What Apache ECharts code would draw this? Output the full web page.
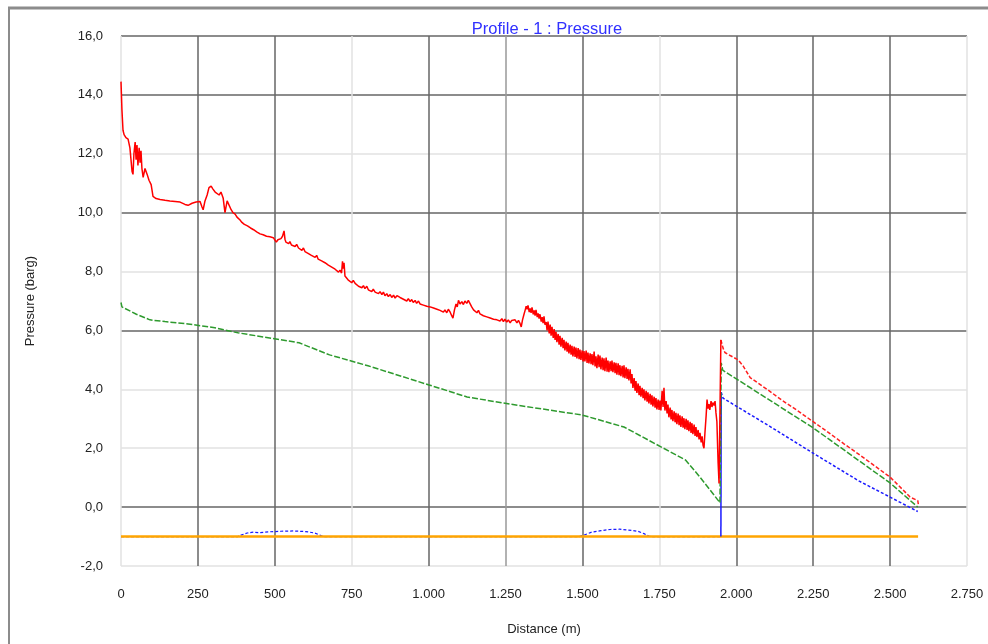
<!DOCTYPE html>
<html>
<head>
<meta charset="utf-8">
<script src="https://cdn.jsdelivr.net/npm/echarts@6/dist/echarts.min.js"></script>
<style>
html,body{margin:0;padding:0;background:#fff;}
#chart{width:988px;height:644px;}
</style>
</head>
<body>
<div id="chart"></div>
<script>
const titleText = 'Profile - 1 : Pressure';
const xAxisName = 'Distance (m)';
const yAxisName = 'Pressure (barg)';

// Red: noisy section up to the jump at ~1950 m
const redMain = [
[0,14.45],[3,13.5],[6.5,12.8],[10,12.65],[16,12.55],[23,12.5],[29,12.2],[36,11.4],[39,11.3],[42,12.0],
[46,12.4],[49,11.8],[52,12.3],[55,11.6],[59,12.2],[62,11.7],[65,12.1],[68,11.5],[72,11.2],[78,11.5],
[85,11.3],[91,11.1],[98,10.95],[104,10.55],[114,10.48],[127,10.45],[143,10.42],[159,10.4],[176,10.38],
[192,10.36],[208,10.28],[218,10.25],[231,10.32],[244,10.36],[257,10.38],[263,10.2],[267,10.1],[273,10.4],
[280,10.6],[286,10.85],[293,10.9],[299,10.8],[306,10.7],[312,10.75],[319,10.6],[325,10.7],[332,10.5],
[338,10.0],[345,10.4],[351,10.45],[358,10.1],[364,10.0],[371,9.95],[377,9.85],
[387,9.75],[392,9.68],[397,9.72],[401,9.6],[406,9.66],[411,9.55],[416,9.6],[421,9.48],[426,9.52],[431,9.42],
[436,9.46],[441,9.35],[446,9.4],[452,9.28],[457,9.34],[462,9.25],[468,9.3],[473,9.2],[478,9.26],[484,9.18],
[490,9.24],[495,9.15],[501,9.2],[505,9.0],[510,9.08],[515,9.02],[520,9.12],[525,9.2],[530,9.38],[533,9.1],
[536,9.0],[541,9.05],[545,8.95],[549,9.02],[554,8.9],[560,8.95],[566,8.85],[571,8.92],[577,8.8],[582,8.86],
[588,8.72],[593,8.8],[598,8.68],[603,8.74],[608,8.62],[614,8.68],[619,8.55],[625,8.6],[631,8.48],[636,8.55],
[641,8.42],[647,8.48],[652,8.36],[658,8.42],[663,8.3],[668,8.36],[674,8.22],[679,8.28],[685,8.15],[690,8.2],
[696,8.08],[701,8.14],[707,7.98],[712,8.05],[717,7.95],[720,8.35],[722,8.1],[725,8.3],[728,7.85],[733,7.8],
[738,7.72],[744,7.78],[750,7.62],[755,7.7],[761,7.6],[766,7.66],[772,7.5],[777,7.56],[783,7.45],[788,7.52],
[793,7.42],[799,7.5],[804,7.38],[809,7.44],[815,7.32],[820,7.4],[826,7.3],[831,7.36],[837,7.25],[842,7.32],
[848,7.22],[853,7.3],[858,7.18],[864,7.25],[869,7.15],[875,7.22],[880,7.12],[886,7.2],[891,7.1],[897,7.18],
[902,7.24],[907,7.12],[913,7.18],[918,7.06],[923,7.12],[929,7.0],[934,7.08],[940,6.98],[945,7.05],[950,6.95],
[956,7.02],[961,6.92],[967,7.0],[972,6.9],[978,6.96],[983,6.86],[988,6.92],[994,6.82],[999,6.88],[1005,6.8],
[1010,6.86],[1016,6.76],[1021,6.82],[1027,6.72],[1032,6.78],[1037,6.68],[1043,6.74],[1048,6.62],[1053,6.7],
[1059,6.6],[1064,6.72],[1070,6.62],[1075,6.5],[1079,6.42],[1084,6.7],[1089,6.9],[1093,6.8],[1097,7.02],
[1102,6.9],[1108,6.98],[1113,6.88],[1118,7.0],[1124,6.92],[1129,7.02],[1135,6.9],[1140,6.8],[1146,6.7],
[1151,6.76],[1157,6.6],[1162,6.68],[1167,6.56],[1173,6.62],[1178,6.5],[1184,6.56],[1189,6.46],[1195,6.52],
[1200,6.42],[1205,6.48],[1211,6.38],[1216,6.44],[1222,6.36],[1227,6.42],[1232,6.32],[1238,6.4],[1243,6.3],
[1248,6.38],[1254,6.28],[1259,6.36],[1265,6.26],[1270,6.34],[1276,6.28],[1281,6.36],[1287,6.26],[1292,6.34],
[1297,6.24],[1301,6.12],[1305,6.35],[1310,6.55],[1314,6.7],[1317,6.82],[1320,6.72],[1323,6.85],[1327,6.62],
[1330,6.75],[1333,6.6],[1336,6.78],[1340,6.55],[1343,6.68],[1346,6.5],[1349,6.7],[1353,6.45],[1356,6.58],
[1359,6.4],[1362,6.55],[1366,6.3],[1369,6.45],[1372,6.25],[1375,6.48],[1378,6.2],[1382,6.28],
[1385,6.0],[1388,6.3],[1392,5.9],[1395,6.2],[1398,5.82],[1401,6.12],[1405,5.75],[1408,6.05],[1411,5.68],
[1414,5.95],[1417,5.6],[1421,5.88],[1424,5.52],[1427,5.82],[1430,5.45],[1434,5.75],[1437,5.4],[1440,5.68],
[1443,5.32],[1447,5.62],[1450,5.28],[1453,5.58],[1456,5.22],[1460,5.52],[1463,5.18],[1466,5.48],[1469,5.12],
[1473,5.45],[1476,5.1],[1479,5.42],[1482,5.05],[1486,5.4],[1489,5.02],[1492,5.35],[1495,5.0],[1499,5.32],
[1502,4.95],[1505,5.3],[1508,4.95],[1512,5.32],[1515,4.9],[1518,5.25],[1521,4.88],[1525,5.22],[1528,4.85],
[1531,5.2],[1534,4.82],[1538,5.28],[1541,4.78],[1544,5.12],[1547,4.72],[1551,5.18],[1554,4.75],[1557,5.15],
[1560,4.68],[1564,5.08],[1567,4.65],[1570,5.05],[1573,4.62],[1577,5.08],[1580,4.6],[1583,4.98],[1586,4.58],
[1590,4.95],[1593,4.62],[1596,4.98],[1599,4.58],[1603,4.92],[1606,4.55],[1609,4.9],[1612,4.5],[1616,4.88],
[1619,4.48],[1622,4.82],[1625,4.45],[1629,4.8],[1632,4.4],[1635,4.82],[1638,4.38],[1642,4.75],[1645,4.35],
[1648,4.7],[1651,4.3],[1655,4.68],[1658,4.2],[1661,4.52],[1664,4.05],[1668,4.38],[1671,3.95],[1674,4.28],
[1677,3.88],[1681,4.2],[1684,3.8],[1687,4.12],[1690,3.75],[1694,4.05],[1697,3.7],[1700,4.0],[1703,3.62],
[1707,3.95],[1710,3.58],[1713,3.9],[1716,3.52],[1720,3.85],[1723,3.48],[1726,3.8],[1729,3.42],[1733,3.75],
[1736,3.38],[1739,3.7],[1742,3.32],[1746,3.65],[1749,3.3],[1752,3.62],[1755,3.28],[1759,3.95],[1762,3.4],
[1765,4.05],[1768,3.28],[1772,3.6],[1775,3.18],[1778,3.48],[1781,3.05],[1785,3.38],[1788,2.98],[1791,3.3],
[1794,2.92],[1798,3.25],[1801,2.88],[1804,3.2],[1807,2.82],[1811,3.18],[1814,2.78],[1817,3.12],[1820,2.72],
[1824,3.08],[1827,2.7],[1830,3.02],[1833,2.65],[1837,3.0],[1840,2.62],[1843,2.95],[1846,2.58],[1850,2.9],
[1853,2.52],[1856,2.85],[1859,2.48],[1863,2.8],[1866,2.42],[1869,2.72],[1872,2.38],[1876,2.62],[1879,2.3],
[1882,2.52],[1886,2.2],[1889,2.4],[1892,2.1],
[1895,2.0],[1898,2.5],[1902,3.1],[1905,3.65],[1908,3.35],[1911,3.5],
[1914,3.3],[1918,3.6],[1921,3.4],[1924,3.55],[1928,3.45],[1931,3.6],[1934,3.2],[1937,2.9],[1941,1.5],
[1944,0.8],[1947,0.82],[1950,5.68]
];
// Red after the jump
const redTail = [
[1950,5.68],[1957,5.4],[1963,5.25],[1980,5.15],[2006,5.0],[2022,4.8],[2045,4.4],[2100,4.0],[2150,3.62],
[2200,3.27],[2250,2.9],[2300,2.53],[2350,2.15],[2400,1.78],[2450,1.4],[2500,1.02],[2550,0.5],[2565,0.34],
[2590,0.22],[2592,0.08]
];
// Green
const greenLine = [
[0,6.95],[3,6.8],[6.5,6.77],[50,6.55],[94,6.36],[143,6.3],[218,6.22],[305,6.09],[380,5.92],[504,5.71],
[579,5.58],[678,5.17],[803,4.8],[1001,4.15],[1125,3.74],[1263,3.5],[1498,3.13],[1635,2.72],[1835,1.6],
[1882,1.02],[1947,0.15],[1950,0.15],[1951,4.9],[1956,4.65],[2250,2.69],[2500,0.82],[2590,0.0]
];
// Blue: base near -1 with two bumps, then the jump
const blueBase = [
[0,-1],[380,-1],[390,-0.95],[410,-0.88],[430,-0.85],[450,-0.87],[480,-0.84],[520,-0.82],[560,-0.81],
[600,-0.83],[630,-0.88],[650,-0.97],[660,-1],[1490,-1],[1505,-0.95],[1530,-0.85],[1560,-0.8],[1590,-0.76],
[1620,-0.75],[1650,-0.78],[1680,-0.82],[1700,-0.9],[1715,-0.98],[1725,-1],[1950,-1]
];
const blueJump = [[1950,-1],[1951,3.9]];
const blueTail = [
[1951,3.9],[1957,3.7],[2100,2.8],[2250,1.83],[2400,0.88],[2500,0.34],[2590,-0.15]
];
// Orange
const orangeLine = [[0,-1],[2591,-1]];

const xTicks = {min:0, max:2750, interval:250};
const yTicks = {min:-2, max:16, interval:2};

const DARK = '#666666', MID = '#999999', LIGHT = '#e2e2e2';
// y split lines from -2 to 16
const yLineColors = [LIGHT, DARK, LIGHT, LIGHT, DARK, LIGHT, DARK, LIGHT, DARK, DARK];
// x split lines from 0 to 2750
const xLineColors = [LIGHT, DARK, DARK, LIGHT, DARK, MID, DARK, LIGHT, DARK, DARK, DARK, LIGHT];

const fontFam = '"Liberation Sans", Arial, sans-serif';

function fmtX(v){
  if (v >= 1000) return Math.floor(v/1000) + '.' + String(v % 1000).padStart(3,'0');
  return String(v);
}
function fmtY(v){ return v.toFixed(1).replace('.', ','); }

const chart = echarts.init(document.getElementById('chart'), null, {renderer:'canvas'});
chart.setOption({
  animation:false,
  backgroundColor:'#fff',
  title:{
    text:titleText, left:542, top:16, textAlign:'center',
    textStyle:{color:'#3030ff', fontSize:16.5, fontWeight:'normal', fontFamily:fontFam}
  },
  graphic:[
    {type:'line', shape:{x1:8, y1:8, x2:988, y2:8}, style:{stroke:'#8c8c8c', lineWidth:3}, silent:true},
    {type:'line', shape:{x1:9, y1:8, x2:9, y2:644}, style:{stroke:'#8c8c8c', lineWidth:2}, silent:true}
  ],
  grid:{left:121, right:21, top:36, bottom:78, containLabel:false},
  xAxis:{
    type:'value', min:xTicks.min, max:xTicks.max, interval:xTicks.interval,
    name:xAxisName, nameLocation:'middle', nameGap:57,
    nameTextStyle:{color:'#222', fontSize:13, fontFamily:fontFam},
    axisLine:{show:false}, axisTick:{show:false},
    axisLabel:{margin:22, color:'#222', fontSize:13, fontFamily:fontFam, formatter:fmtX},
    splitLine:{show:true, lineStyle:{color:xLineColors, width:1.5}}
  },
  yAxis:{
    type:'value', min:yTicks.min, max:yTicks.max, interval:yTicks.interval,
    name:yAxisName, nameLocation:'middle', nameGap:84, nameRotate:90,
    nameTextStyle:{color:'#222', fontSize:13, fontFamily:fontFam},
    axisLine:{show:false}, axisTick:{show:false},
    axisLabel:{margin:18, color:'#222', fontSize:13, fontFamily:fontFam, formatter:fmtY},
    splitLine:{show:true, lineStyle:{color:yLineColors, width:1.5}}
  },
  series:[
    {name:'blueBase', type:'line', data:blueBase, showSymbol:false, lineStyle:{color:'#1a1aff', width:1.2, type:[3,2]}, z:2},
    {name:'orange', type:'line', data:orangeLine, showSymbol:false, lineStyle:{color:'#ffa500', width:2.5}, z:3},
    {name:'blueJump', type:'line', data:blueJump, showSymbol:false, lineStyle:{color:'#1a1aff', width:1.5}, z:4},
    {name:'blueTail', type:'line', data:blueTail, showSymbol:false, lineStyle:{color:'#1a1aff', width:1.5, type:[3,2]}, z:4},
    {name:'green', type:'line', data:greenLine, showSymbol:false, lineStyle:{color:'#2e9a2e', width:1.5, type:[6,2]}, z:5},
    {name:'redTail', type:'line', data:redTail, showSymbol:false, lineStyle:{color:'#ff2020', width:1.5, type:[4,2]}, z:6},
    {name:'red', type:'line', data:redMain, showSymbol:false, lineStyle:{color:'#ff0000', width:1.5}, z:7}
  ]
});
</script>
</body>
</html>
